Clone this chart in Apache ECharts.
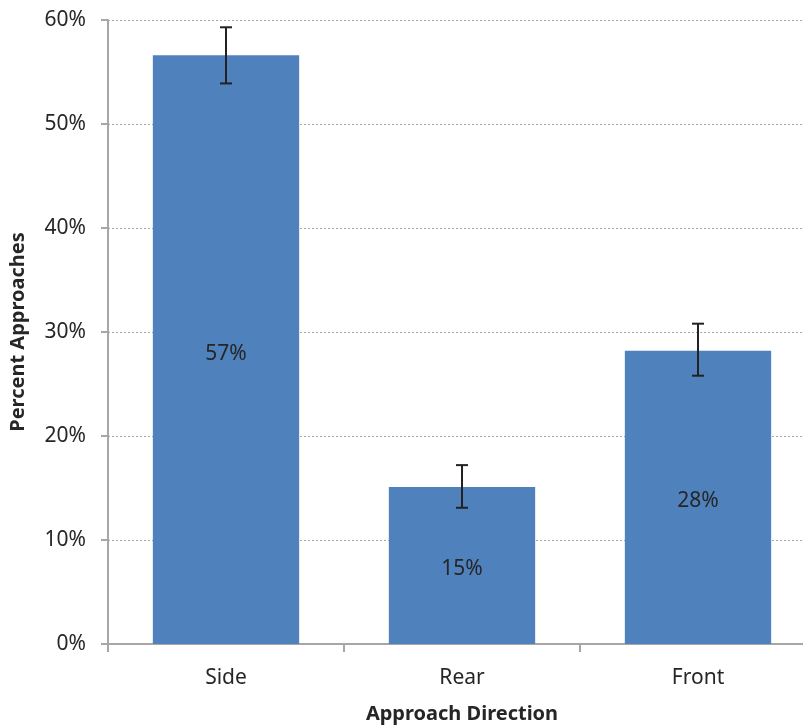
<!DOCTYPE html>
<html>
<head>
<meta charset="utf-8">
<script src="https://cdn.jsdelivr.net/npm/echarts@6/dist/echarts.min.js"></script>
<style>
  html, body { margin: 0; padding: 0; background: #ffffff; }
  #chart { width: 803px; height: 727px; }
</style>
</head>
<body>
<div id="chart"></div>
<script>
// Approach direction categories and percentages
const categories = ['Side', 'Rear', 'Front'];
const percentValues = [56.6, 15.1, 28.2];
const errorLow = [53.9, 13.1, 25.8];
const errorHigh = [59.3, 17.2, 30.8];
const yTicks = [0, 10, 20, 30, 40, 50, 60];

const textColor = '#262626';
const fontFamily = '"Noto Sans", "Open Sans", sans-serif';

const errorData = categories.map((c, i) => [i, errorLow[i], errorHigh[i]]);

const chart = echarts.init(document.getElementById('chart'), null, { renderer: 'canvas' });

chart.setOption({
  animation: false,
  backgroundColor: '#ffffff',
  grid: { left: 108, right: -13, top: 20, bottom: 83, containLabel: false, outerBoundsMode: 'none' },
  xAxis: {
    type: 'category',
    data: categories,
    name: 'Approach Direction',
    nameLocation: 'middle',
    nameGap: 60,
    nameTextStyle: { fontFamily, fontSize: 20, fontWeight: 'bold', color: textColor },
    axisLine: { lineStyle: { color: '#a6a6a6', width: 2 } },
    axisTick: { show: true, length: 8, lineStyle: { color: '#a6a6a6', width: 2 } },
    axisLabel: { fontFamily, fontSize: 21, color: textColor, margin: 24 }
  },
  yAxis: {
    type: 'value',
    min: yTicks[0],
    max: yTicks[yTicks.length - 1],
    interval: 10,
    name: 'Percent Approaches',
    nameLocation: 'middle',
    nameGap: 80,
    nameTextStyle: { fontFamily, fontSize: 20, fontWeight: 'bold', color: textColor },
    axisLine: { show: true, lineStyle: { color: '#a6a6a6', width: 2 } },
    axisTick: { show: true, length: 7, lineStyle: { color: '#a6a6a6', width: 2 } },
    axisLabel: { fontFamily, fontSize: 21, color: textColor, margin: 22, formatter: '{value}%' },
    splitLine: { show: true, lineStyle: { color: '#a6a6a6', type: [2, 2], width: 1 } }
  },
  series: [
    {
      type: 'bar',
      data: percentValues,
      barCategoryGap: '38%',
      itemStyle: { color: '#4f81bd' },
      label: {
        show: true,
        position: 'inside',
        offset: [0, 4],
        fontFamily,
        fontSize: 21,
        color: textColor,
        formatter: p => Math.round(p.value) + '%'
      },
      z: 2
    },
    {
      type: 'custom',
      data: errorData,
      z: 5,
      renderItem: function (params, api) {
        const x = api.value(0);
        const lo = api.coord([x, api.value(1)]);
        const hi = api.coord([x, api.value(2)]);
        const cap = 6;
        const style = { stroke: '#222222', lineWidth: 2 };
        return {
          type: 'group',
          children: [
            { type: 'line', shape: { x1: hi[0], y1: hi[1], x2: lo[0], y2: lo[1] }, style },
            { type: 'line', shape: { x1: hi[0] - cap, y1: hi[1], x2: hi[0] + cap, y2: hi[1] }, style },
            { type: 'line', shape: { x1: lo[0] - cap, y1: lo[1], x2: lo[0] + cap, y2: lo[1] }, style }
          ]
        };
      }
    }
  ]
});
</script>
</body>
</html>
